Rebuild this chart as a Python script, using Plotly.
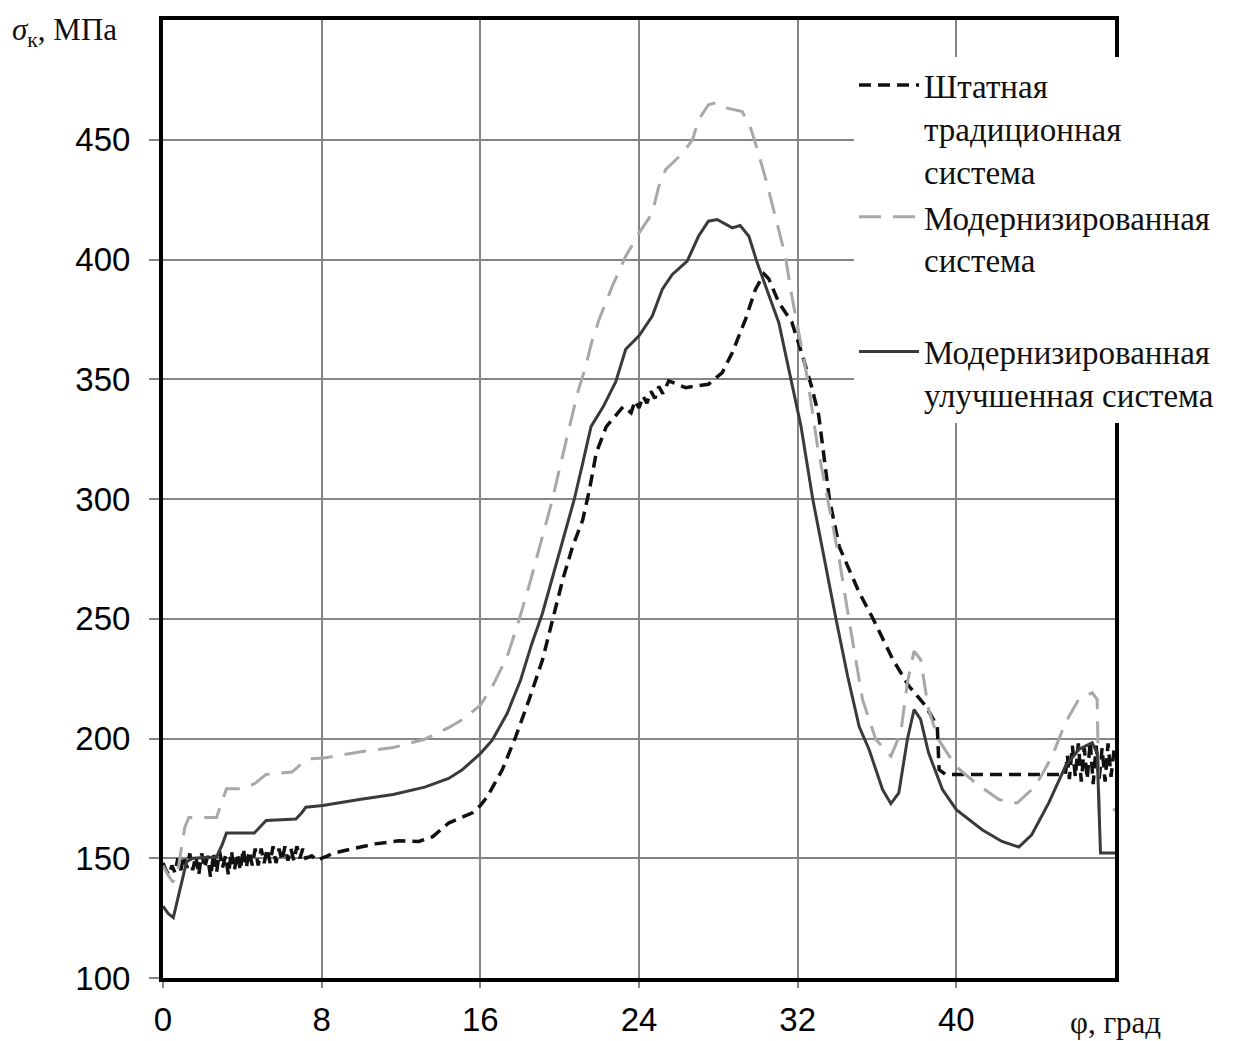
import plotly.graph_objects as go

# ---------------- data ----------------
# Штатная традиционная система (black dashed)
x_std = [0, 0.15, 0.3, 0.45, 0.6, 0.75, 0.9, 1.05, 1.2, 1.35, 1.5, 1.65, 1.8, 1.95, 2.1, 2.25,
         2.4, 2.55, 2.7, 2.85, 3.0, 3.15, 3.3, 3.45, 3.6, 3.75, 3.9, 4.05, 4.2, 4.35, 4.5, 4.65,
         4.8, 4.95, 5.1, 5.25, 5.4, 5.55, 5.7, 5.85, 6.0, 6.15, 6.3, 6.45, 6.6, 6.75, 6.9, 7.05,
         7.2, 7.5, 7.8, 8.0, 8.3, 8.55, 9.55, 10.7, 11.9, 12.9, 13.6, 14.4, 15.6, 16.0, 16.34,
         17.1, 17.78, 18.45, 19.13, 19.64, 20.15, 20.65, 21.16, 21.5, 21.84, 22.35, 22.66, 23.2,
         23.6, 23.8, 24.0, 24.2, 24.4, 24.6, 24.8, 25.0, 25.2, 25.5, 26.35, 27.5, 28.2, 28.7,
         29.37, 29.87, 30.3, 30.54, 31.05, 31.7, 32.2, 32.7, 33.06, 33.26, 33.6, 34.1, 35.1,
         35.8, 36.8, 37.6, 38.46, 39.04, 39.13, 39.46, 45.5, 45.6, 45.7, 45.85, 46.0, 46.15,
         46.3, 46.45, 46.6, 46.75, 46.9, 47.05, 47.2, 47.35, 47.5, 47.65, 47.8, 47.95]
y_std = [148, 145, 143, 147, 144, 150, 145, 151, 146, 152, 145, 151, 143, 152, 146, 151,
         142, 152, 144, 153, 146, 151, 143, 153, 145, 152, 145, 154, 146, 153, 147, 154,
         147, 154, 148, 154, 148, 155, 148, 154, 149, 155, 149, 154, 149, 155, 150, 154,
         150, 151, 149, 150, 151, 152, 154, 156, 157.3, 157, 159, 164.7, 169, 172, 175.6,
         186.8, 200.7, 216, 232.7, 249.4, 266.2, 280.1, 291.2, 303.8, 319.1, 330.2, 333.3, 338.6,
         336, 341, 338, 343, 340, 345, 342, 347, 344, 349.3, 346.5, 347.9, 352.8, 361.1,
         375, 387.5, 394, 392, 382, 374, 361, 347, 335, 322, 300, 280, 261,
         250, 233, 222, 213.5, 205, 187, 185, 185, 193, 183, 197, 184, 198,
         182, 196, 183, 199, 181, 197, 183, 196, 182, 198, 184, 195]

# Модернизированная система (light gray dashed)
x_mod = [0, 0.25, 0.5, 0.75, 1.1, 1.3, 2.7, 3.0, 3.2, 4.0, 4.6, 5.2, 5.7, 6.5, 7.2, 7.5, 8.2,
         9.9, 11.6, 13.2, 14.4, 15.2, 16.0, 16.6, 17.35, 17.95, 18.54, 19.13, 19.64, 20.06,
         20.5, 20.9, 21.3, 21.6, 21.99, 22.66, 23.33, 24.0, 24.67, 25.0, 25.34, 26.2, 26.7,
         27.0, 27.5, 27.94, 28.45, 29.2, 29.6, 29.87, 30.4, 30.88, 31.38, 31.7, 32.05, 32.5,
         33.0, 33.5, 34.1, 34.6, 35.27, 35.94, 36.7, 37.2, 37.53, 37.87, 38.2, 38.6, 39.1,
         39.97, 40.97, 42.15, 43.07, 43.99, 44.83, 45.5, 46.17, 46.85, 47.1, 47.2, 48.0]
y_mod = [147, 143, 140, 145, 163, 167, 167, 174, 179, 179, 181, 185, 185.5, 186, 191, 191.5, 192,
         194.4, 196.2, 199.7, 204.5, 208.4, 213.9, 221.6, 234.1, 249.4, 266.2, 284.3, 300, 315,
         330.2, 344.2, 355, 365, 375, 389, 401.4, 411, 419.4, 430.6, 437.5, 444.4, 450,
         458.3, 464.6, 465.6, 463.2, 461.8, 455.6, 448.6, 433.3, 418.1, 401.4, 385, 369.4, 350,
         322, 300, 274.6, 249, 216.3, 199.6, 192.6, 202.4, 223.3, 236.5, 233, 212.1, 199.6,
         188.4, 181.4, 174.5, 173.1, 180.1, 192.6, 206.6, 216.3, 219.1, 216.3, 170.3, 170.3]

# Модернизированная улучшенная система (dark solid)
x_imp = [0, 0.25, 0.52, 0.8, 1.19, 1.5, 2.7, 3.0, 3.2, 4.6, 5.0, 5.2, 6.7, 7.0, 7.2, 8.05,
         9.9, 11.6, 13.2, 14.4, 15.07, 16.0, 16.6, 17.35, 18.03, 18.6, 19.13, 19.64, 20.23,
         20.74, 21.16, 21.58, 22.2, 22.83, 23.33, 24.0, 24.67, 25.17, 25.68, 26.43, 27.0, 27.5,
         27.94, 28.3, 28.7, 29.1, 29.54, 29.96, 30.37, 31.05, 31.66, 32.17, 32.76, 33.34, 33.93,
         34.52, 35.1, 35.6, 36.28, 36.7, 37.1, 37.53, 37.87, 38.2, 38.6, 39.3, 40.0, 41.3,
         42.3, 43.15, 43.8, 44.66, 45.5, 46.17, 46.85, 47.1, 47.27, 48.0]
y_imp = [130, 127, 125.2, 135, 148.6, 150, 150.5, 156, 160.5, 160.5, 164, 165.8, 166.4, 169, 171.3, 172,
         174.5, 176.6, 179.7, 183.3, 186.8, 193.7, 199.3, 210.4, 224.4, 239.7, 252.2, 267.5, 285.7,
         300, 314.9, 330.2, 338.6, 349, 362.5, 368.1, 376.4, 387.5, 393.75, 399.3, 409.7, 416,
         416.7, 415, 413.2, 414.2, 409.7, 398.6, 388.9, 373.6, 350, 330.3, 300, 274.6, 250,
         226, 205, 195.4, 178.7, 172.8, 177.3, 199.6, 212.1, 208, 194, 178.7, 170.3, 161.9,
         157, 154.7, 159.8, 173.1, 188.4, 195.4, 198.2, 194, 152.2, 152.2]

names = ["Штатная<br>традиционная<br>система",
         "Модернизированная<br>система",
         "Модернизированная<br>улучшенная система"]

x_ticks = [0, 8, 16, 24, 32, 40]
y_ticks = [100, 150, 200, 250, 300, 350, 400, 450]

# ---------------- figure ----------------
fig = go.Figure()
fig.add_trace(go.Scatter(x=x_std, y=y_std, mode="lines", name=names[0], legendgroup="a",
                         line=dict(color="#111111", width=3.5, dash="12px,7px")))
fig.add_trace(go.Scatter(x=x_mod, y=y_mod, mode="lines", name=names[1], legendgroup="a",
                         line=dict(color="#a8a8a8", width=3, dash="22px,12px")))
fig.add_trace(go.Scatter(x=x_imp, y=y_imp, mode="lines", name=names[2], legendgroup="b",
                         line=dict(color="#3a3a3a", width=3)))

axis_common = dict(showgrid=True, gridcolor="#858585", gridwidth=1.5,
                   showline=True, linecolor="black", linewidth=4, mirror=True,
                   ticks="outside", tickcolor="#858585", tickwidth=1.5,
                   tickfont=dict(family="Liberation Sans, Arial", size=33, color="black"),
                   zeroline=False, automargin=False)

serif = "Liberation Serif, Times New Roman"
PLOT_W, PLOT_H = 952, 958
L, T = 155, 12           # page has an 8px body margin
W, H = 1232, 1033
PX0, PY0 = 163, 20       # plot-area origin in page pixels

fig.update_layout(
    width=W, height=H,
    margin=dict(l=L, r=W - L - PLOT_W, t=T, b=H - T - PLOT_H),
    paper_bgcolor="white", plot_bgcolor="white",
    xaxis=dict(range=[0, 48], tickvals=x_ticks, ticklen=6, ticklabelstandoff=3, **axis_common),
    yaxis=dict(range=[100, 500], tickvals=y_ticks, ticklen=10, ticklabelstandoff=12, **axis_common),
    showlegend=True,
    legend=dict(x=(854 - PX0) / PLOT_W, y=1 - (57 - PY0) / PLOT_H, xanchor="left", yanchor="top",
                bgcolor="white", borderwidth=0, valign="top", itemwidth=60,
                tracegroupgap=46, traceorder="grouped",
                font=dict(family=serif, size=33, color="#111111")),
    annotations=[
        dict(text="<i>σ</i><sub>к</sub>, МПа", xref="paper", yref="paper",
             x=(10 - PX0) / PLOT_W, y=1 - (32 - PY0) / PLOT_H, xanchor="left", yanchor="middle",
             showarrow=False, font=dict(family=serif, size=31, color="#111111")),
        dict(text="φ, град", xref="x", yref="paper", x=48, y=-(1022 - 978) / PLOT_H,
             xanchor="center", yanchor="middle", showarrow=False,
             font=dict(family=serif, size=31, color="#111111")),
    ],
)

fig.write_html("out.html")
